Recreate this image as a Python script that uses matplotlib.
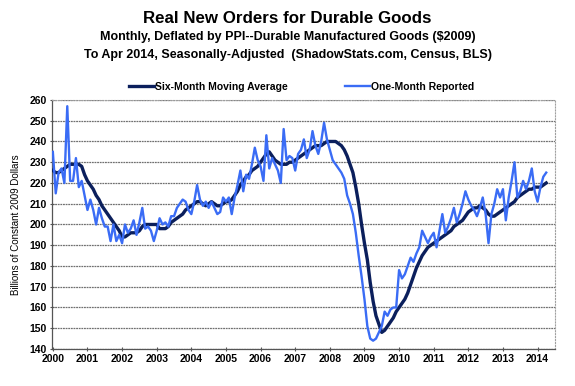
import matplotlib
matplotlib.use("Agg")
import matplotlib.pyplot as plt
import numpy as np

# Years shown on the x axis
years = list(range(2000, 2015))

# One-month reported values, Jan 2000 - Apr 2014 (billions, 2009 dollars)
reported = [
    235, 215, 225, 227, 220, 257, 221, 221, 232, 218, 221, 214,  # 2000
    207, 212, 207, 200, 208, 203, 199, 199, 192, 200, 192, 195,  # 2001
    191, 200, 196, 198, 202, 195, 201, 208, 198, 199, 197, 192,  # 2002
    197, 203, 200, 201, 199, 204, 204, 208, 210, 212, 211, 207,  # 2003
    205, 211, 219, 212, 209, 211, 208, 211, 208, 205, 206, 213,  # 2004
    211, 213, 205, 213, 219, 226, 216, 224, 222, 229, 237, 231,  # 2005
    228, 221, 243, 227, 232, 229, 226, 220, 246, 231, 233, 232,  # 2006
    226, 234, 236, 241, 232, 236, 245, 238, 234, 240, 249, 241,  # 2007
    236, 231, 229, 227, 225, 222, 214, 210, 205, 196, 185, 175,  # 2008
    164, 151, 145, 144, 145, 148, 151, 158, 156, 159, 160, 160,  # 2009
    178, 174, 176, 180, 184, 182, 186, 189, 197, 194, 191, 194,  # 2010
    196, 189, 197, 205, 196, 199, 203, 208, 201, 205, 210, 216,  # 2011
    212, 209, 207, 204, 208, 213, 205, 191, 205, 210, 217, 213,  # 2012
    217, 202, 213, 221, 230, 213, 216, 221, 217, 221, 227, 216,  # 2013
    211, 218, 223, 225,                                          # 2014
]

# Six-month moving average, same months
moving_avg = [
    226, 225, 225, 226, 227, 228, 229, 229, 229, 229, 228, 224,  # 2000
    221, 219, 217, 214, 212, 209, 207, 205, 203, 201, 199, 197,  # 2001
    194, 194, 195, 196, 196, 196, 197, 199, 200, 200, 200, 200,  # 2002
    200, 198, 198, 198, 199, 201, 202, 203, 204, 205, 207, 208,  # 2003
    209, 210, 211, 211, 210, 209, 210, 211, 210, 209, 209, 210,  # 2004
    211, 211, 212, 214, 216, 219, 221, 223, 224, 226, 227, 228,  # 2005
    230, 232, 234, 235, 233, 231, 230, 229, 229, 229, 230, 230,  # 2006
    231, 232, 233, 234, 235, 236, 237, 238, 238, 238, 239, 240,  # 2007
    240, 240, 240, 239, 238, 236, 233, 229, 225, 218, 210, 200,  # 2008
    191, 183, 172, 163, 156, 152, 148, 149, 151, 153, 155, 158,  # 2009
    160, 162, 164, 167, 171, 175, 179, 182, 185, 187, 189, 190,  # 2010
    191, 192, 193, 194, 195, 196, 197, 199, 200, 201, 202, 204,  # 2011
    206, 207, 208, 208, 209, 208, 207, 205, 204, 204, 205, 206,  # 2012
    207, 208, 209, 210, 211, 213, 214, 215, 216, 217, 217, 218,  # 2013
    218, 218, 219, 220,                                          # 2014
]

months = np.arange(len(reported))

plt.rcParams["font.family"] = ["Liberation Sans", "DejaVu Sans"]

fig = plt.figure(figsize=(5.75, 3.86), dpi=100)
ax = fig.add_axes([0.0904, 0.0959, 0.8746, 0.6451])

ax.plot(months, moving_avg, color="#0b1f5c", lw=2.4, label="Six-Month Moving Average", zorder=3)
ax.plot(months, reported, color="#3a6cf5", lw=1.7, label="One-Month Reported", zorder=4)

# Axes
ax.set_ylim(140, 260)
ax.set_yticks(range(140, 261, 10))
ax.set_xlim(-0.3, 174)
ax.set_xticks([12 * (y - 2000) for y in years])
ax.set_xticklabels([str(y) for y in years])
ax.tick_params(axis="both", labelsize=7.5, direction="inout", length=3, width=0.8, color="#555555", pad=2)
for lbl in ax.get_xticklabels() + ax.get_yticklabels():
    lbl.set_fontweight("bold")

ax.grid(axis="y", color="#707070", lw=0.9, linestyle=(0, (1.5, 0.6)))
ax.set_axisbelow(True)
for side in ["top", "right"]:
    ax.spines[side].set_color("#a0a0a0")
    ax.spines[side].set_linestyle(":")
for side in ["left", "bottom"]:
    ax.spines[side].set_color("#555555")
    ax.spines[side].set_linewidth(0.9)

ax.set_ylabel("Billions of Constant 2009 Dollars", fontsize=7, labelpad=6)

# Titles
fig.text(0.5, 0.953, "Real New Orders for Durable Goods", ha="center", va="center",
         fontsize=12.2, fontweight="bold")
fig.text(0.5, 0.903, "Monthly, Deflated by PPI--Durable Manufactured Goods ($2009)",
         ha="center", va="center", fontsize=9, fontweight="bold")
fig.text(0.5, 0.858, "To Apr 2014, Seasonally-Adjusted  (ShadowStats.com, Census, BLS)",
         ha="center", va="center", fontsize=9, fontweight="bold")

leg = fig.legend(loc="center", bbox_to_anchor=(0.525, 0.775), ncol=2, frameon=False,
                 fontsize=7.5, handlelength=2.4, handletextpad=0.1, columnspacing=5.5)
for t in leg.get_texts():
    t.set_fontweight("bold")

fig.savefig("out.png", dpi=100)
